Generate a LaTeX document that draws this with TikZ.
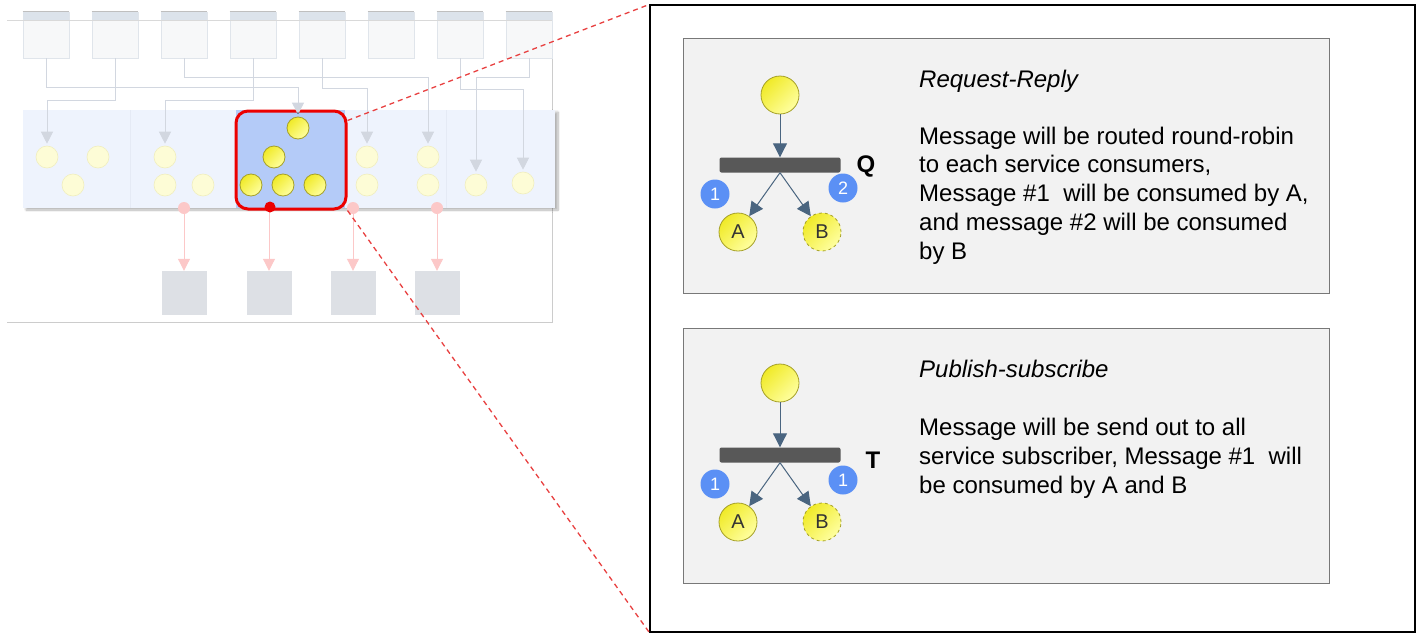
\documentclass[tikz,border=0pt]{standalone}
\usepackage{fontspec}
\setmainfont{Liberation Sans}
\usetikzlibrary{arrows.meta,shadows.blur}

\definecolor{arrowdark}{RGB}{74,101,128}
\definecolor{bardark}{RGB}{88,88,88}
\definecolor{badgeblue}{RGB}{91,144,245}
\definecolor{panelgray}{RGB}{242,242,242}
\definecolor{panelline}{RGB}{120,120,120}
\definecolor{hlblue}{RGB}{180,203,248}
\definecolor{hlred}{RGB}{236,0,0}
\definecolor{bandblue}{RGB}{238,243,253}
\definecolor{bandsep}{RGB}{229,234,245}
\definecolor{fadeline}{RGB}{210,215,224}
\definecolor{fadered}{RGB}{252,200,200}
\definecolor{sinkgray}{RGB}{221,224,229}
\definecolor{srcfill}{RGB}{247,248,249}
\definecolor{srcline}{RGB}{224,229,235}
\definecolor{srchead}{RGB}{220,227,235}
\definecolor{ysat}{RGB}{240,234,40}
\definecolor{ylight}{RGB}{255,255,160}
\definecolor{yedge}{RGB}{165,160,40}
\definecolor{fadey}{RGB}{253,252,214}
\definecolor{fadeyedge}{RGB}{240,238,190}
\definecolor{dashred}{RGB}{232,64,64}

\tikzset{
  ball/.style={circle, inner sep=0pt, minimum size=#1, draw=yedge, line width=0.8pt,
    top color=ysat, bottom color=ylight, shading angle=45},
  ball/.default=22,
  fadeball/.style={circle, inner sep=0pt, minimum size=22, fill=fadey, draw=fadeyedge, line width=0.6pt},
  srcbox/.style={rectangle, minimum width=46, minimum height=46, inner sep=0pt, fill=srcfill, draw=srcline, line width=0.6pt},
  sinkbox/.style={rectangle, minimum width=45, minimum height=44, inner sep=0pt, fill=sinkgray},
  fadearrow/.style={draw=fadeline, line width=1pt, -{Triangle[width=12pt,length=12pt]}, shorten >=2pt},
  redarrow/.style={draw=fadered, line width=1pt, -{Triangle[width=12pt,length=12pt]}},
  flowarrow/.style={draw=arrowdark, line width=1pt, -{Triangle[width=14pt,length=14pt]}},
  chanbar/.style={rectangle, rounded corners=2pt, fill=bardark, minimum width=121, minimum height=15, inner sep=0pt},
  badge/.style={circle, fill=badgeblue, minimum size=29, inner sep=0pt, text=white, font=\fontsize{18}{18}\selectfont},
  consumer/.style={ball=38, font=\fontsize{20}{20}\selectfont, text=black!80},
  infobox/.style={rectangle, fill=panelgray, draw=panelline, line width=0.9pt, minimum width=646, minimum height=255, inner sep=0pt},
  chanlabel/.style={font=\fontsize{24}{24}\selectfont\bfseries, anchor=base},
  titletext/.style={font=\fontsize{24}{28.7}\selectfont\itshape, anchor=base west, inner sep=0pt},
  bodytext/.style={font=\fontsize{24}{28.7}\selectfont, align=left, anchor=base west, inner sep=0pt},
  zoomline/.style={draw=dashred, line width=1.3pt, dash pattern=on 5pt off 4pt}
}

\begin{document}
\begin{tikzpicture}[x=1pt,y=-1pt]
\useasboundingbox (0,0) rectangle (1417,635);

% ---------- overview of the system (faded) ----------
\draw[draw=black!20, line width=0.8pt] (7,20) -- (552,20) -- (552,322) -- (7,322);

% service band with shadow
\node[rectangle, fill=bandblue, minimum width=532, minimum height=98, inner sep=0pt,
      blur shadow={shadow xshift=3pt, shadow yshift=-2pt, shadow blur steps=8, shadow opacity=30}]
  (band) at (289,159) {};
\foreach \xx in {130,446} \draw[bandsep, line width=0.6pt] (\xx,110) -- (\xx,208);

% source boxes with header strips
\foreach \i/\xx in {1/46,2/115,3/184,4/253,5/322,6/391,7/460,8/529} {
  \node[srcbox] (s\i) at (\xx,35) {};
  \fill[srchead] (s\i.north west) rectangle ([yshift=-8pt]s\i.north east);
  \draw[black!25, line width=0.6pt] (s\i.north west) -- (s\i.north east);
}
\draw[draw=black!15, line width=0.6pt] (7,20) -- (552,20);

% faded consumers
\node[fadeball] (f1) at (47,157) {};
\node[fadeball] (f2) at (98,157) {};
\node[fadeball] (f3) at (73,185) {};
\node[fadeball] (f4) at (165,157) {};
\node[fadeball] (f5) at (165,185) {};
\node[fadeball] (f6) at (203,185) {};
\node[fadeball] (f7) at (367,157) {};
\node[fadeball] (f8) at (367,185) {};
\node[fadeball] (f9) at (428,157) {};
\node[fadeball] (f10) at (476,185) {};
\node[fadeball] (f11) at (523,183) {};
\node[fadeball] (f12) at (428,185) {};

% highlighted service
\node[rectangle, fill=hlblue, minimum width=109, minimum height=98, inner sep=0pt] (hlfill) at (290,159) {};
\node[ball] (h1) at (298,128) {};
\node[ball] (h2) at (274,157) {};
\node[ball] (h3) at (251,185) {};
\node[ball] (h4) at (283,185) {};
\node[ball] (h5) at (315,185) {};
\node[rectangle, draw=hlred, line width=3pt, rounded corners=12pt, minimum width=110, minimum height=98, inner sep=0pt] (hl) at (291,160) {};

% routing from sources to consumers
\draw[fadearrow] (s1.south) -- ++(0,29) -| (h1.north);
\draw[fadearrow] (s2.south) -- ++(0,42) -| (f1.north);
\draw[fadearrow] (s3.south) -- ++(0,19) -| (f9.north);
\draw[fadearrow] (s4.south) -- ++(0,42) -| (f4.north);
\draw[fadearrow] (s5.south) -- ++(0,30) -| (f7.north);
\draw[fadearrow] (s7.south) -- ++(0,31) -| (f11.north);
\draw[fadearrow] (s8.south) -- ++(0,19) -| (f10.north);
\fill[arrowdark] (298,113) circle (1pt);

% outputs to sinks
\node[sinkbox] (b1) at (184,293) {};
\node[sinkbox] (b2) at (269,293) {};
\node[sinkbox] (b3) at (353,293) {};
\node[sinkbox] (b4) at (437,293) {};
\node[circle, fill=fadered, minimum size=12, inner sep=0pt] (d1) at (184,208) {};
\node[circle, fill=fadered, minimum size=12, inner sep=0pt] (d3) at (353,208) {};
\node[circle, fill=fadered, minimum size=12, inner sep=0pt] (d4) at (437,208) {};
\draw[redarrow] (d1) -- (b1.north);
\draw[redarrow] (269,212) coordinate (d2out) -- (b2.north);
\draw[redarrow] (d3) -- (b3.north);
\draw[redarrow] (d4) -- (b4.north);
\node[circle, fill=hlred, minimum size=11, inner sep=0pt] (d2) at (270,207) {};

% ---------- detail panel ----------
\node[rectangle, fill=white, draw=black, line width=1.2pt, minimum width=765, minimum height=627, inner sep=0pt] (panel) at (1032.5,318.5) {};
\draw[zoomline] ([yshift=-11pt]hl.north east) -- (panel.north west);
\draw[zoomline] (hl.south east) -- (panel.south west);

% Request-Reply (queue)
\node[infobox] (qbox) at (1006,165.5) {};
\node[ball=38] (qsrc) at (780,95) {};
\node[chanbar] (qbar) at (780,165) {};
\node[consumer] (qa) at (738,232) {A};
\node[consumer, dashed] (qb) at (822,232) {B};
\draw[flowarrow] (qsrc) -- (qbar.north);
\draw[flowarrow] (qbar.south) -- (qa);
\draw[flowarrow] (qbar.south) -- (qb);
\node[badge] (q1) at (715,194) {1};
\node[badge] (q2) at (843,188) {2};
\node[chanlabel] (qlab) at (866,172) {Q};
\node[titletext] (qtitle) at (919,87) {Request-Reply};
% multi-line text is anchored at the baseline of its last line
\node[bodytext] (qtext) at (919,259) {Message will be routed round-robin\\to each service consumers,\\Message \#1\ \ will be consumed by A,\\and message \#2 will be consumed\\by B};

% Publish-subscribe (topic)
\node[infobox] (tbox) at (1006,455.5) {};
\node[ball=38] (tsrc) at (780,383) {};
\node[chanbar] (tbar) at (780,455) {};
\node[consumer] (ta) at (738,522) {A};
\node[consumer, dashed] (tb) at (822,522) {B};
\draw[flowarrow] (tsrc) -- (tbar.north);
\draw[flowarrow] (tbar.south) -- (ta);
\draw[flowarrow] (tbar.south) -- (tb);
\node[badge] (t1) at (715,484) {1};
\node[badge] (t2) at (843,480) {1};
\node[chanlabel] (tlab) at (873,468) {T};
\node[titletext] (ttitle) at (919,377) {Publish-subscribe};
\node[bodytext] (ttext) at (919,493) {Message will be send out to all\\service subscriber, Message \#1\ \ will\\be consumed by A and B};

\end{tikzpicture}
\end{document}
